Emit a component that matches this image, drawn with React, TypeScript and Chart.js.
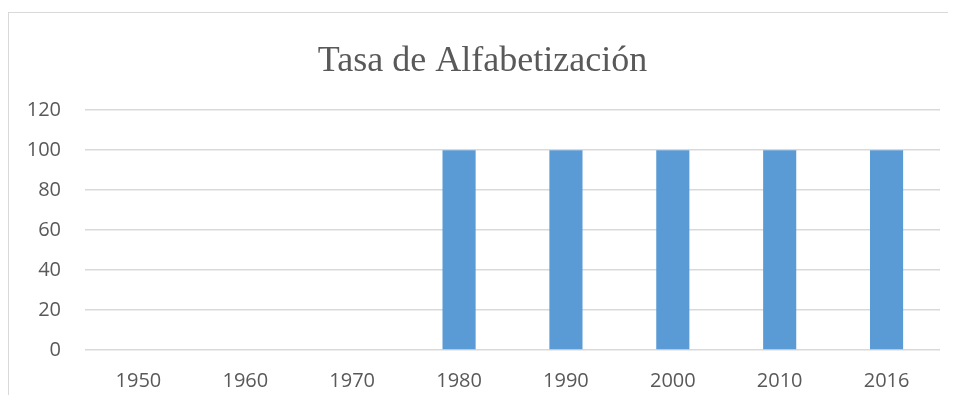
import React, { useEffect, useRef } from "react";
import { Chart, registerables } from "chart.js";

Chart.register(...registerables);

const years = ["1950", "1960", "1970", "1980", "1990", "2000", "2010", "2016"];
const literacyRate: (number | null)[] = [null, null, null, 100, 100, 100, 100, 100];
const yTicksMax = 120;
const yTicksStep = 20;
const chartTitle = "Tasa de Alfabetización";

export default function App() {
  const ref = useRef<HTMLCanvasElement | null>(null);

  useEffect(() => {
    document.documentElement.style.overflow = "hidden";
    const canvas = ref.current;
    if (!canvas) return;
    const chart = new Chart(canvas, {
      type: "bar",
      data: {
        labels: years,
        datasets: [
          {
            label: chartTitle,
            data: literacyRate,
            backgroundColor: "#5B9BD5",
            borderWidth: 0,
            categoryPercentage: 1,
            barPercentage: 0.31,
          },
        ],
      },
      options: {
        animation: false,
        responsive: false,
        maintainAspectRatio: false,
        layout: { padding: { left: 16, right: 16, top: 0, bottom: 0 } },
        plugins: {
          legend: { display: false },
          tooltip: { enabled: false },
          title: {
            display: true,
            text: chartTitle,
            color: "#595959",
            font: { family: "'Liberation Serif', 'Times New Roman', serif", size: 36, weight: "normal" },
            padding: { top: 27, bottom: 27 },
          },
        },
        scales: {
          x: {
            grid: { display: false, drawTicks: false },
            border: { display: false },
            ticks: {
              color: "#595959",
              font: { family: "'Open Sans', sans-serif", size: 20 },
              padding: 19,
              maxRotation: 0,
            },
          },
          y: {
            min: 0,
            max: yTicksMax,
            grid: { color: "#d9d9d9", lineWidth: 1.5, drawTicks: false },
            border: { display: false },
            ticks: {
              stepSize: yTicksStep,
              color: "#595959",
              font: { family: "'Open Sans', sans-serif", size: 20 },
              padding: 24,
            },
            afterFit: (scale: any) => {
              scale.width = 60;
            },
          },
        },
      },
    });
    return () => chart.destroy();
  }, []);

  return (
    <div style={{ paddingTop: 4 }}>
      <div
        style={{
          width: 947,
          height: 382,
          overflow: "hidden",
          borderTop: "1.5px solid #d9d9d9",
          borderLeft: "1.5px solid #d9d9d9",
          background: "#fff",
        }}
      >
        <canvas ref={ref} width={947} height={399} style={{ display: "block" }} />
      </div>
    </div>
  );
}
